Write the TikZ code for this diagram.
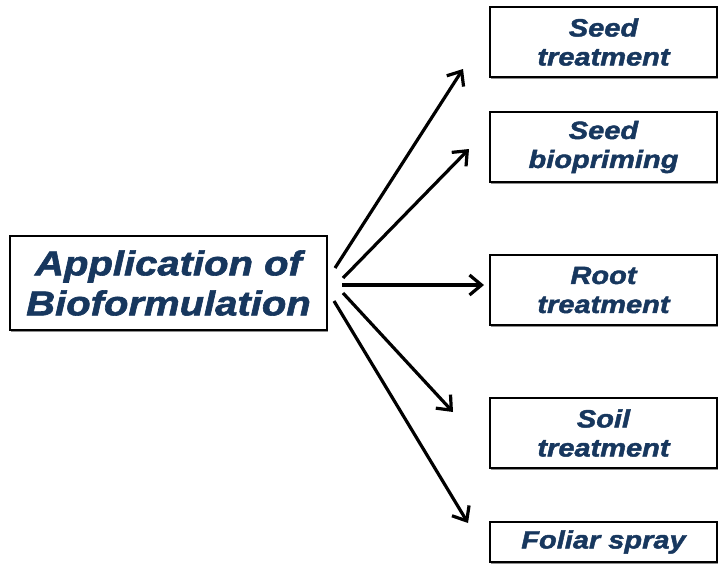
\documentclass[tikz,border=0pt]{standalone}
\usepackage{fontspec}
\newfontfamily\labfont[FakeStretch=1.16,FakeBold=1.8]{Liberation Sans Bold Italic}
\usetikzlibrary{arrows.meta,shadows}
\definecolor{navy}{HTML}{17375E}
\tikzset{
  box/.style={draw=black, line width=1.2pt, fill=white, inner sep=0pt,
    drop shadow={shadow xshift=1pt, shadow yshift=-1.5pt, fill=black!55, opacity=0.8},
    text=navy, align=center, font=\labfont\fontsize{25}{29}\selectfont},
  mainbox/.style={box, font=\labfont\fontsize{34.5}{40}\selectfont},
  arr/.style={line width=3.2pt, -{Straight Barb[length=12pt,width=20pt,line width=3.2pt]}}
}
\begin{document}
\begin{tikzpicture}[x=1pt,y=-1pt]
\useasboundingbox (0,0) rectangle (725,563);
\node[mainbox, minimum width=317pt, minimum height=94pt] (main) at (168.5,283) {Application of\\Bioformulation};
\node[box, minimum width=227pt, minimum height=70pt] (b1) at (603.5,42) {Seed\\treatment};
\node[box, minimum width=227pt, minimum height=70pt] (b2) at (603.5,147) {Seed\\biopriming};
\node[box, minimum width=227pt, minimum height=70pt] (b3) at (603.5,290) {Root\\treatment};
\node[box, minimum width=227pt, minimum height=70pt] (b4) at (603.5,433) {Soil\\treatment};
\node[box, minimum width=227pt, minimum height=40pt] (b5) at (603.5,542) {Foliar spray};
\coordinate (s1) at (335,268);
\coordinate (e1) at (463,69);
\coordinate (s2) at (343,278);
\coordinate (e2) at (469,149);
\coordinate (s3) at (342,285);
\coordinate (e3) at (484,285);
\coordinate (s4) at (343,293);
\coordinate (e4) at (453,412);
\coordinate (s5) at (334,301);
\coordinate (e5) at (468,523);
\draw[arr] (s1) -- (e1);
\draw[arr] (s2) -- (e2);
\draw[arr] (s3) -- (e3);
\draw[arr] (s4) -- (e4);
\draw[arr] (s5) -- (e5);
\end{tikzpicture}
\end{document}
